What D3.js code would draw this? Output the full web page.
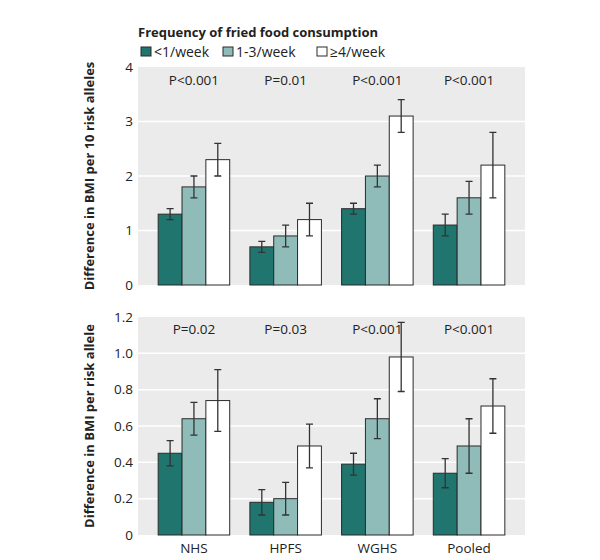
<!DOCTYPE html>
<html lang="en">
<head>
<meta charset="UTF-8">
<title>Fried food consumption and BMI</title>
<script src="https://cdn.jsdelivr.net/npm/d3@7"></script>
<style>
    body { margin: 0; background: #fff; }
    text { font-family: "Open Sans", Lato, sans-serif; fill: #222; }
</style>
</head>
<body>
<div id="chart"></div>
<script>
// cohorts and frequency groups
const cohorts = ["NHS", "HPFS", "WGHS", "Pooled"];
const freqs = ["<1/week", "1-3/week", "\u22654/week"];
const freqColors = ["#20756f", "#8fbcb9", "#ffffff"];

// top panel: per 10 risk alleles
const top10 = [[1.3, 1.8, 2.3], [0.7, 0.9, 1.2], [1.4, 2.0, 3.1], [1.1, 1.6, 2.2]];
const top10Lo = [[1.2, 1.6, 2.0], [0.6, 0.7, 0.9], [1.3, 1.8, 2.8], [0.9, 1.3, 1.6]];
const top10Hi = [[1.4, 2.0, 2.6], [0.8, 1.1, 1.5], [1.5, 2.2, 3.4], [1.3, 1.9, 2.8]];
const topP = ["P<0.001", "P=0.01", "P<0.001", "P<0.001"];
const topTicks = [0, 1, 2, 3, 4];

// bottom panel: per risk allele
const perAllele = [[0.45, 0.64, 0.74], [0.18, 0.20, 0.49], [0.39, 0.64, 0.98], [0.34, 0.49, 0.71]];
const perAlleleLo = [[0.38, 0.55, 0.57], [0.11, 0.11, 0.37], [0.33, 0.53, 0.79], [0.26, 0.34, 0.56]];
const perAlleleHi = [[0.52, 0.73, 0.91], [0.25, 0.29, 0.61], [0.45, 0.75, 1.17], [0.42, 0.64, 0.86]];
const bottomP = ["P=0.02", "P=0.03", "P<0.001", "P<0.001"];
const bottomTicks = [0, 0.2, 0.4, 0.6, 0.8, 1.0, 1.2];

const width = 600, height = 560;
const fs = 13.5;
const svg = d3.select("#chart").append("svg")
    .attr("width", width)
    .attr("height", height);

const x = d3.scaleBand().domain(cohorts).range([138, 525])
    .paddingInner(0.22).paddingOuter(0.22);
const xSub = d3.scaleBand().domain(freqs).range([0, x.bandwidth()]);

function panel(opts) {
    const y = d3.scaleLinear().domain([0, opts.max]).range([opts.bottom, opts.top]);
    const g = svg.append("g");

    g.append("rect")
        .attr("x", x.range()[0]).attr("y", opts.top)
        .attr("width", x.range()[1] - x.range()[0])
        .attr("height", opts.bottom - opts.top)
        .attr("fill", "#ebebeb");

    g.selectAll(".grid").data(opts.ticks.filter(t => t > 0 && t < opts.max))
        .join("line")
        .attr("x1", x.range()[0]).attr("x2", x.range()[1])
        .attr("y1", d => y(d)).attr("y2", d => y(d))
        .attr("stroke", "#fff").attr("stroke-width", 1.5);

    g.selectAll(".tick").data(opts.ticks).join("text")
        .attr("x", 133).attr("y", d => y(d))
        .attr("dy", "0.35em")
        .attr("text-anchor", "end")
        .attr("font-size", fs)
        .text(d => opts.fmt(d));

    g.append("text")
        .attr("transform", `translate(94,${(opts.top + opts.bottom) / 2}) rotate(-90)`)
        .attr("text-anchor", "middle")
        .attr("font-size", 13)
        .attr("font-weight", "bold")
        .text(opts.title);

    const groups = g.selectAll(".cohort").data(cohorts).join("g")
        .attr("transform", d => `translate(${x(d)},0)`);

    groups.selectAll("rect").data((c, i) => freqs.map((f, j) => ({ f, j, v: opts.vals[i][j] })))
        .join("rect")
        .attr("x", d => xSub(d.f))
        .attr("y", d => y(d.v))
        .attr("width", xSub.bandwidth())
        .attr("height", d => y(0) - y(d.v))
        .attr("fill", d => freqColors[d.j])
        .attr("stroke", "#2b2b2b")
        .attr("stroke-width", 1);

    groups.selectAll(".err").data((c, i) => freqs.map((f, j) => ({
            f, lo: opts.lo[i][j], hi: opts.hi[i][j] })))
        .join("path")
        .attr("d", d => {
            const cx = xSub(d.f) + xSub.bandwidth() / 2;
            const w = 3.5;
            return `M${cx - w},${y(d.hi)}H${cx + w}M${cx},${y(d.hi)}V${y(d.lo)}M${cx - w},${y(d.lo)}H${cx + w}`;
        })
        .attr("fill", "none")
        .attr("stroke", "#333")
        .attr("stroke-width", 1.3);

    g.selectAll(".pval").data(cohorts).join("text")
        .attr("x", d => x(d) + x.bandwidth() / 2)
        .attr("y", opts.pY)
        .attr("text-anchor", "middle")
        .attr("font-size", fs)
        .text((d, i) => opts.p[i]);

    return y;
}

panel({ top: 67, bottom: 285, max: 4, ticks: topTicks, fmt: d3.format("d"),
    vals: top10, lo: top10Lo, hi: top10Hi, p: topP, pY: 85,
    title: "Difference in BMI per 10 risk alleles" });

panel({ top: 317, bottom: 535, max: 1.2, ticks: bottomTicks,
    fmt: d => d === 0 ? "0" : d3.format(".1f")(d),
    vals: perAllele, lo: perAlleleLo, hi: perAlleleHi, p: bottomP, pY: 334,
    title: "Difference in BMI per risk allele" });

// x axis labels
svg.selectAll(".xlab").data(cohorts).join("text")
    .attr("x", d => x(d) + x.bandwidth() / 2)
    .attr("y", 553)
    .attr("text-anchor", "middle")
    .attr("font-size", fs)
    .text(d => d);

// legend
const legend = svg.append("g");
legend.append("text")
    .attr("x", 138).attr("y", 37)
    .attr("font-size", 13)
    .attr("font-weight", "bold")
    .text("Frequency of fried food consumption");

const legendX = [141, 223, 317];
const items = legend.selectAll(".item").data(freqs).join("g")
    .attr("transform", (d, i) => `translate(${legendX[i]},47)`);
items.append("rect")
    .attr("width", 10).attr("height", 9)
    .attr("fill", (d, i) => freqColors[i])
    .attr("stroke", "#2b2b2b");
items.append("text")
    .attr("x", 13).attr("y", 9.5)
    .attr("font-size", 14)
    .text(d => d);
</script>
</body>
</html>
